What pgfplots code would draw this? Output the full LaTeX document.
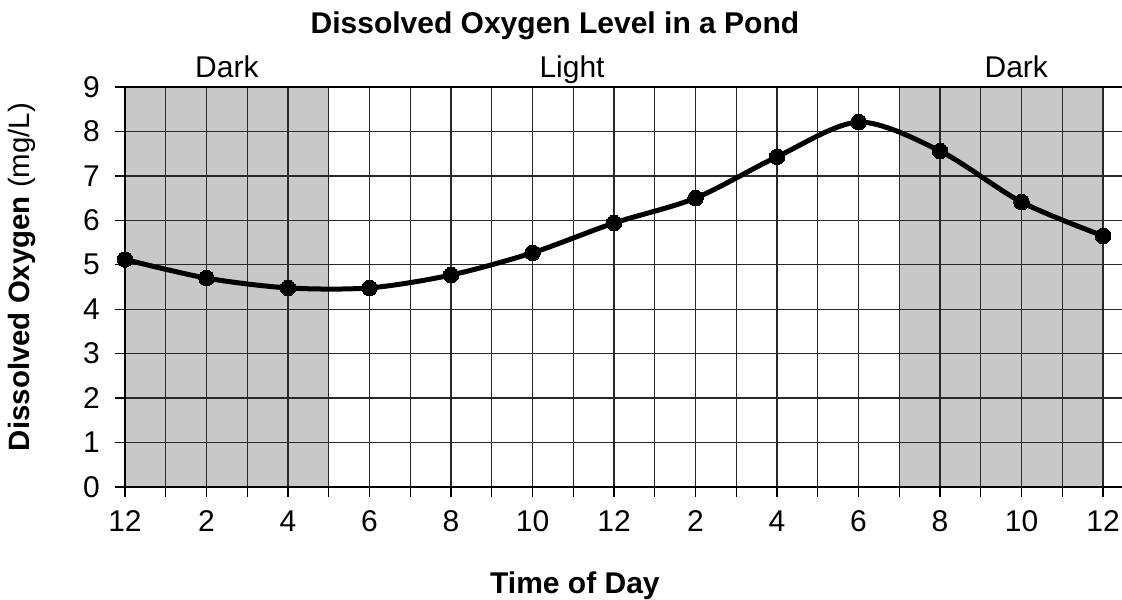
\documentclass[border=0pt]{standalone}
\usepackage{pgfplots}
\pgfplotsset{compat=1.18}
\usepackage{fontspec}
\setmainfont{Liberation Sans}
\definecolor{shade}{RGB}{200,200,200}
\definecolor{gridc}{RGB}{40,40,40}
\pgfplotstableread{
x y
0 5.12
2 4.70
4 4.48
6 4.48
8 4.77
10 5.27
12 5.94
14 6.50
16 7.43
18 8.21
20 7.56
22 6.41
24 5.65
}\datatable
\begin{document}
\begin{tikzpicture}
\begin{axis}[
  set layers=standard,
  scale only axis,
  width=509.4pt, height=200pt,
  xmin=0, xmax=25, ymin=0, ymax=9,
  xtick={0,2,...,24},
  xticklabels={12,2,4,6,8,10,12,2,4,6,8,10,12},
  minor xtick={1,3,...,23},
  ytick={0,1,...,9},
  tick pos=left,
  grid=both,
  grid style={gridc, line width=0.65pt},
  minor grid style={gridc, line width=0.65pt},
  tick align=outside,
  major tick length=5pt,
  minor tick length=5pt,
  every tick/.style={black, line width=0.65pt},
  axis line style={black, line width=0.7pt},
  tick label style={font=\fontsize{15}{18}\selectfont},
  /pgf/number format/assume math mode=true,
  xticklabel style={anchor=base, yshift=-17pt},
  yticklabel style={anchor=east, xshift=-4pt},
  title={\textbf{Dissolved Oxygen Level in a Pond}},
  every axis title/.style={at={(axis cs:10.55,9)}, anchor=base, yshift=27pt, font=\fontsize{15}{18}\selectfont},
  xlabel={\textbf{Time of Day}},
  every axis x label/.style={at={(axis cs:11.04,0)}, anchor=base, yshift=-53pt, font=\fontsize{15}{18}\selectfont},
  ylabel={\textbf{Dissolved Oxygen} (mg/L)},
  every axis y label/.style={at={(axis description cs:0,0.525)}, xshift=-51.5pt, anchor=center, rotate=90, font=\fontsize{14.7}{18}\selectfont},
  clip=false,
]
\addplot[fill=shade, draw=none, on layer=axis background] coordinates {(0,0) (0,9) (5,9) (5,0)} \closedcycle;
\addplot[fill=shade, draw=none, on layer=axis background] coordinates {(19,0) (19,9) (24,9) (24,0)} \closedcycle;
\addplot[black, line width=2.5pt, smooth, mark=*, mark size=3.9pt, mark options={fill=black, line width=0pt}] table[x=x, y=y] {\datatable};
\node[anchor=base, font=\fontsize{15}{18}\selectfont] at (axis cs:2.5,9) [yshift=5pt] {Dark};
\node[anchor=base, font=\fontsize{15}{18}\selectfont] at (axis cs:10.97,9) [yshift=5pt] {Light};
\node[anchor=base, font=\fontsize{15}{18}\selectfont] at (axis cs:21.87,9) [yshift=5pt] {Dark};
\end{axis}
\pgfresetboundingbox
\useasboundingbox (-62.5pt,-56pt) rectangle (498.5pt,243.5pt);
\end{tikzpicture}
\end{document}
